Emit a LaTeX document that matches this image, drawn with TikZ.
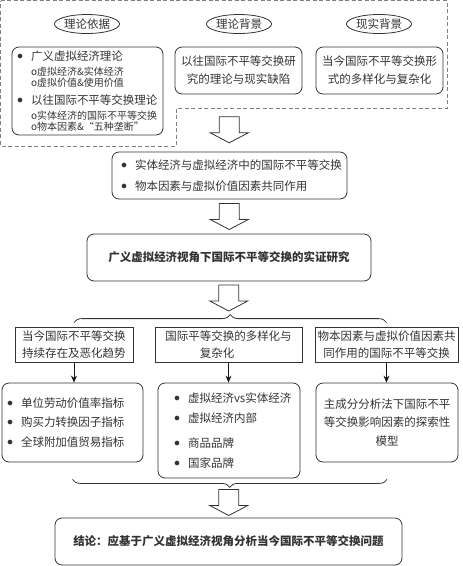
\documentclass[tikz,border=0pt]{standalone}
\usepackage{fontspec}
\setmainfont{Noto Sans CJK SC}
\usetikzlibrary{calc, positioning, arrows.meta, shapes.geometric, decorations.pathreplacing}
\newcommand{\mainsize}{\fontsize{11.5}{18}\selectfont}
\newcommand{\subsize}{\fontsize{10}{10.5}\selectfont}
\newcommand{\dotitem}{\makebox[14pt][l]{\raisebox{1.2pt}{$\bullet$}}}
\newcommand{\ringitem}{\hspace*{14pt}o}

\begin{document}
\begin{tikzpicture}[
    x=1pt, y=-1pt,
    roundbox/.style={draw=black!80, line width=0.8pt, rounded corners=7pt, inner sep=3pt,
      font=\mainsize, align=center, text=black!80},
    flatbox/.style={draw=black!80, line width=0.8pt, inner sep=2pt, minimum height=35pt,
      font=\fontsize{11.5}{17}\selectfont, align=center, text=black!80},
    tag/.style={ellipse, draw=black!80, line width=0.8pt, inner sep=0pt,
      minimum width=63pt, minimum height=19pt, font=\mainsize, text=black!80},
    fatdown/.pic={\draw[black!80, line width=0.8pt, fill=white]
      (-10,-13) -- (10,-13) -- (10,3) -- (19,3) -- (0,13) -- (-19,3) -- (-10,3) -- cycle;},
    brace/.style={decorate, decoration={brace, amplitude=8pt}, draw=black!80, line width=0.8pt},
    down/.style={-{Stealth[length=7pt, width=6pt]}, line width=1pt, black!90},
  ]
    \useasboundingbox (0,0) rectangle (463,566);
    \draw[black!50, line width=0.8pt, dash pattern=on 4pt off 2.5pt]
      (0.5,0.5) -- (447,0.5) -- (447,108) -- (176,108) -- (176,146) -- (0.5,146) -- cycle;
    \coordinate (framebot) at (229,108);

    \node[tag] (basis) at (87,24) {理论依据};
    \node[tag] (theorybg) at (239,24) {理论背景};
    \node[tag] (realbg) at (379,24) {现实背景};

    \node[roundbox, text width=141pt, inner xsep=5pt, align=left, minimum height=88pt] (basisbox) at (87.5,91) {%
      \dotitem 广义虚拟经济理论\par
      \subsize\vspace{5pt}\ringitem 虚拟经济\&实体经济\par
      \ringitem 虚拟价值\&使用价值\par
      \mainsize\dotitem 以往国际不平等交换理论\par
      \subsize\vspace{5pt}\ringitem 实体经济的国际不平等交换\par
      \ringitem 物本因素\&“五种垄断”\par};
    \node[roundbox, minimum width=127pt, minimum height=47pt] (theorybox) at (238.5,70.5) {以往国际不平等交换研\\究的理论与现实缺陷};
    \node[roundbox, minimum width=127pt, minimum height=47pt] (realbox) at (379.5,70.5) {当今国际不平等交换形\\式的多样化与复杂化};

    \node[roundbox, text width=217pt, inner xsep=9pt, align=left, minimum height=47pt,
      font=\fontsize{11.5}{21}\selectfont] (mech) at (229.5,175.5) {\dotitem 实体经济与虚拟经济中的国际不平等交换\\ \dotitem 物本因素与虚拟价值因素共同作用};
    \node[roundbox, minimum width=284pt, minimum height=47pt, font=\mainsize\bfseries] (study) at (229,257.5) {广义虚拟经济视角下国际不平等交换的实证研究};

    \node[flatbox, minimum width=118pt] (trend) at (74,344.5) {当今国际不平等交换\\持续存在及恶化趋势};
    \node[flatbox, minimum width=147pt] (variety) at (228.5,344.5) {国际平等交换的多样化与\\复杂化\hspace*{23pt}};
    \node[flatbox, minimum width=143pt] (joint) at (386.5,344.5) {物本因素与虚拟价值因素共\\同作用的国际不平等交换};
    \coordinate (bracetop) at ([yshift=12pt]variety.north);

    \node[roundbox, text width=131pt, inner xsep=5pt, align=left, minimum height=79pt,
      font=\fontsize{11.5}{19.5}\selectfont] (index) at (72.5,422.5) {\dotitem 单位劳动价值率指标\\ \dotitem 购买力转换因子指标\\ \dotitem 全球附加值贸易指标};
    \node[roundbox, text width=128pt, inner xsep=7pt, align=left, minimum height=95pt,
      font=\fontsize{11.5}{20}\selectfont] (forms) at (229,430.5) {\leftskip=9pt \dotitem 虚拟经济vs实体经济\\ \dotitem 虚拟经济内部\\[5pt] \dotitem 商品品牌\\ \dotitem 国家品牌\par};
    \node[roundbox, minimum width=142pt, minimum height=79pt, font=\fontsize{11.5}{18.5}\selectfont] (pca) at (387,422.5) {主成分分析法下国际不平\\等交换影响因素的探索性\\模型};
    \coordinate (bracebot) at ([yshift=-9pt]forms.south);

    \node[roundbox, minimum width=347pt, minimum height=47pt, font=\mainsize\bfseries] (concl) at (228.5,541.5) {结论：应基于广义虚拟经济视角分析当今国际不平等交换问题};

    \pic at ($(framebot)!0.5!(mech.north)$) {fatdown};
    \pic at ($(mech.south)!0.5!(study.north)$) {fatdown};
    \pic at ($(study.south)!0.5!(bracetop)$) {fatdown};
    \pic at ($(bracebot)!0.5!(concl.north)$) {fatdown};

    \draw[brace] ([yshift=4pt]trend.north) -- ([yshift=4pt]joint.north);
    \draw[brace] ([yshift=-1pt]pca.south |- forms.south) -- ([yshift=-1pt]index.south |- forms.south);

    \draw[down] (trend.south) -- (trend.south |- index.north);
    \draw[down] (variety.south) -- (variety.south |- forms.north);
    \draw[down] (joint.south) -- (joint.south |- pca.north);
  \end{tikzpicture}
\end{document}
